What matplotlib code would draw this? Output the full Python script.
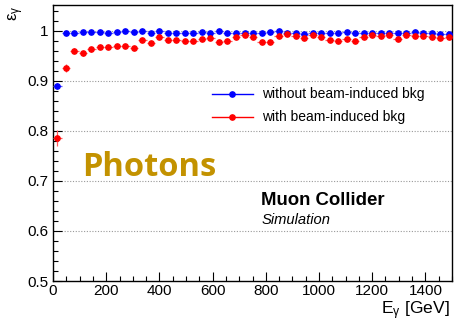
import numpy as np
import matplotlib
matplotlib.use("Agg")
import matplotlib.pyplot as plt
from matplotlib.lines import Line2D
from matplotlib.ticker import MultipleLocator

plt.rcParams['font.family'] = ['Liberation Sans', 'DejaVu Sans']
plt.rcParams['mathtext.fontset'] = 'custom'
plt.rcParams['mathtext.rm'] = 'Liberation Sans'
plt.rcParams['mathtext.it'] = 'Liberation Sans'
plt.rcParams['mathtext.default'] = 'regular'

# Bin centres (GeV), bin width 32 GeV
bin_width = 32.0
energy = [16, 48, 80, 112, 144, 176, 208, 240, 272, 304, 336, 368, 400, 432, 464,
          496, 528, 560, 592, 624, 656, 688, 720, 752, 784, 816, 848, 880, 912, 944,
          976, 1008, 1040, 1072, 1104, 1136, 1168, 1200, 1232, 1264, 1296, 1328, 1360,
          1392, 1424, 1456, 1488]

eff_no_bib = [0.890, 0.995, 0.996, 0.9975, 0.9975, 0.9975, 0.9955, 0.9975, 0.999, 0.9975,
              0.999, 0.996, 0.999, 0.9955, 0.9955, 0.995, 0.995, 0.997, 0.995, 0.9985,
              0.996, 0.995, 0.995, 0.996, 0.995, 0.9965, 0.9985, 0.996, 0.996, 0.993,
              0.996, 0.995, 0.995, 0.996, 0.9965, 0.995, 0.995, 0.996, 0.995, 0.996,
              0.995, 0.996, 0.9975, 0.996, 0.996, 0.9935, 0.9935]

eff_bib = [0.786, 0.925, 0.960, 0.955, 0.963, 0.968, 0.968, 0.970, 0.970, 0.966,
           0.982, 0.976, 0.988, 0.982, 0.981, 0.980, 0.980, 0.984, 0.985, 0.978,
           0.980, 0.987, 0.991, 0.987, 0.978, 0.978, 0.989, 0.993, 0.989, 0.986,
           0.991, 0.987, 0.9815, 0.980, 0.983, 0.980, 0.988, 0.9915, 0.9895, 0.992,
           0.9835, 0.992, 0.9895, 0.9895, 0.988, 0.9855, 0.987]

err_no_bib = [0.006] + [0.0015] * 46
err_bib = [0.016, 0.008, 0.005, 0.005, 0.005, 0.004, 0.004, 0.004, 0.004, 0.004] + [0.003] * 37

legend_labels = ['without beam-induced bkg', 'with beam-induced bkg']
series_colors = ['#0000ff', '#ff0000']

fig = plt.figure(figsize=(4.55, 3.21), dpi=100)
ax = fig.add_axes([0.1165, 0.1246, 0.8769, 0.8598])

for yv in [0.6, 0.7, 0.8, 0.9, 1.0]:
    ax.axhline(yv, color='#999999', linestyle=(0, (1, 1.5)), linewidth=0.8, zorder=0)

x = np.array(energy)
ax.errorbar(x, eff_no_bib, xerr=bin_width / 2, yerr=err_no_bib, fmt='o', color=series_colors[0],
            ecolor='#5a5aff', elinewidth=0.9, markersize=3.8, capsize=0, zorder=3)
ax.errorbar(x, eff_bib, xerr=bin_width / 2, yerr=err_bib, fmt='o', color=series_colors[1],
            ecolor='#ff5a5a', elinewidth=0.9, markersize=3.8, capsize=0, zorder=3)

ax.set_xlim(0, 1500)
ax.set_ylim(0.5, 1.051)
ax.xaxis.set_major_locator(MultipleLocator(200))
ax.xaxis.set_minor_locator(MultipleLocator(50))
ax.yaxis.set_minor_locator(MultipleLocator(0.02))
ax.set_yticks([0.5, 0.6, 0.7, 0.8, 0.9, 1.0])
ax.set_yticklabels(['0.5', '0.6', '0.7', '0.8', '0.9', '1'])
ax.tick_params(which='major', direction='in', length=6.5, width=0.8, labelsize=11, pad=3)
ax.tick_params(which='minor', direction='in', length=3.6, width=0.8)
ax.tick_params(axis='x', which='major', pad=2.5)
for s in ax.spines.values():
    s.set_linewidth(1.0)

fig.text(0.989, 0.022, r'E$_{\gamma}$ [GeV]', ha='right', va='baseline', fontsize=12.6)
fig.text(0.014, 0.982, r'$\varepsilon_{\gamma}$', ha='left', va='top', rotation=90, fontsize=12)

# legend drawn in axes coordinates
leg_y = [0.6775, 0.594]
for yy, c, lab in zip(leg_y, series_colors, legend_labels):
    ax.add_line(Line2D([0.398, 0.501], [yy, yy], transform=ax.transAxes, color=c,
                       linewidth=1.0, zorder=4))
    ax.add_line(Line2D([0.4495], [yy], transform=ax.transAxes, color=c, marker='o',
                       markersize=3.8, linestyle='none', zorder=5))
    ax.text(0.524, yy, lab, transform=ax.transAxes, fontsize=10, va='center', ha='left')

ax.text(0.072, 0.38, 'Photons', transform=ax.transAxes, fontsize=23.5,
        fontweight='bold', family='Open Sans', color='#c39200', va='baseline')
ax.text(0.522, 0.275, 'Muon Collider', transform=ax.transAxes, fontsize=13.4,
        fontweight='bold', va='baseline')
ax.text(0.522, 0.2076, 'Simulation', transform=ax.transAxes, fontsize=10.6,
        style='italic', va='baseline')

fig.savefig('out.png', dpi=100)
